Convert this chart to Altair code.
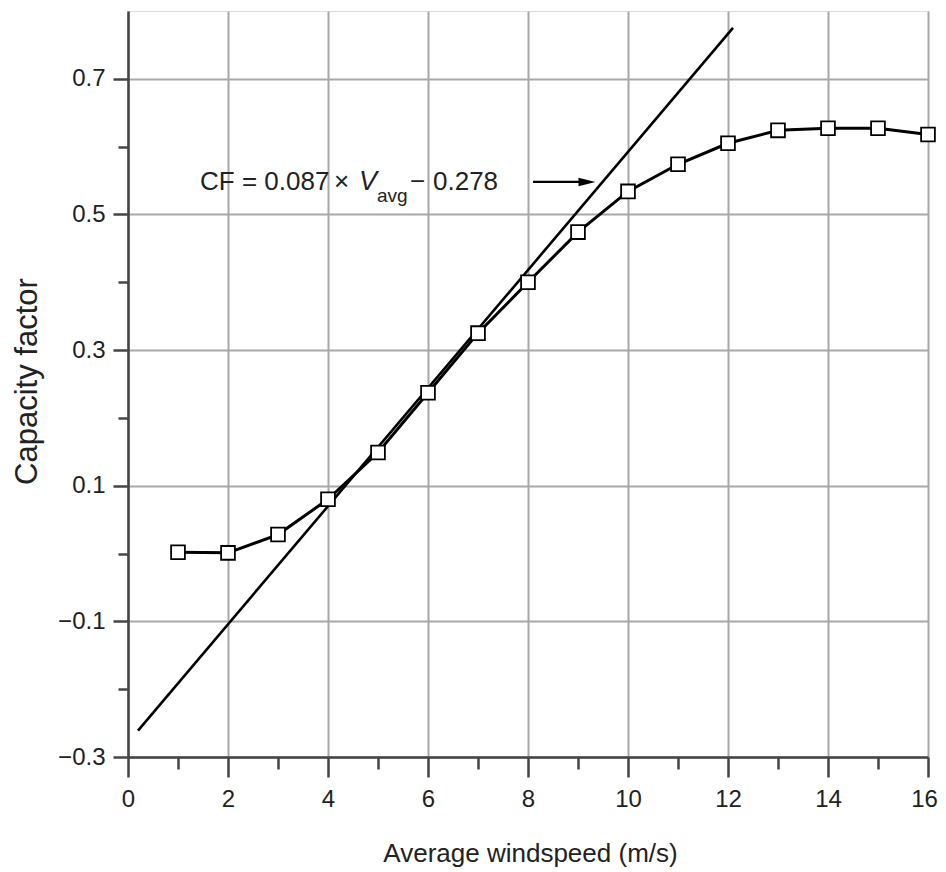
import altair as alt
import pandas as pd

# ---- data ----
speed = [1, 2, 3, 4, 5, 6, 7, 8, 9, 10, 11, 12, 13, 14, 15, 16]
capacity = [0.002, 0.001, 0.028, 0.080, 0.149, 0.237, 0.325, 0.400,
            0.474, 0.534, 0.574, 0.605, 0.624, 0.627, 0.627, 0.618]
fit_speed = [0.2, 12.1]
fit_cf = [-0.261, 0.775]

x_ticks = list(range(0, 17))
y_ticks = [-0.3, -0.2, -0.1, 0.0, 0.1, 0.2, 0.3, 0.4, 0.5, 0.6, 0.7]

# annotation pieces: text, x, y, size, style
ann_text = ["CF = 0.087", "\u00d7", "V", "avg", "\u2212", "0.278"]
ann_x = [1.44, 4.12, 4.62, 4.98, 5.64, 6.10]
ann_y = [0.536, 0.536, 0.536, 0.519, 0.536, 0.536]
ann_size = [26, 26, 27, 19, 26, 26]
ann_style = ["normal", "normal", "italic", "normal", "normal", "normal"]

arrow_x = [8.1]
arrow_x2 = [9.05]
arrow_y = [0.548]
head_x = [9.18]

FONT = "Liberation Sans, Arial, sans-serif"
INK = "#222222"
AX = "#444444"

df = pd.DataFrame({"speed": speed, "cf": capacity})
fit = pd.DataFrame({"speed": fit_speed, "cf": fit_cf})
ann = pd.DataFrame({"t": ann_text, "x": ann_x, "y": ann_y, "s": ann_size, "st": ann_style})
arr = pd.DataFrame({"x": arrow_x, "x2": arrow_x2, "y": arrow_y})
head = pd.DataFrame({"x": head_x, "y": arrow_y})

xs = alt.Scale(domain=[0, 16], nice=False, zero=False)
ys = alt.Scale(domain=[-0.3, 0.8], nice=False, zero=False)

x_major = "datum.value % 2 == 0"
y_major = "abs(round(datum.value * 10)) % 2 == 1"

x_axis = alt.Axis(
    values=x_ticks,
    labelExpr=f"{x_major} ? format(datum.value, 'd') : ''",
    grid=True,
    gridColor="#a8a8a8",
    gridWidth=2,
    gridOpacity={"condition": {"test": x_major, "value": 1}, "value": 0},
    tickSize={"condition": {"test": x_major, "value": 20}, "value": 12},
    tickWidth=2.5, tickColor=AX,
    domainColor=AX, domainWidth=2.5,
    labelFont=FONT, labelFontSize=24, labelColor=INK, labelPadding=10,
    labelOffset={"condition": {"test": "datum.value == 16", "value": -4}, "value": 0},
    labelFlush=False, labelOverlap=False,
    title="Average windspeed (m/s)", titleFont=FONT, titleFontSize=26,
    titleFontWeight="normal", titleColor=INK,
    titleX=402, titleY=96, titleBaseline="middle", titleAlign="center",
)
y_axis = alt.Axis(
    values=y_ticks,
    labelExpr=f"{y_major} ? format(datum.value, '.1f') : ''",
    grid=True,
    gridColor="#a8a8a8",
    gridWidth=2,
    gridOpacity={"condition": {"test": y_major, "value": 1}, "value": 0},
    tickSize={"condition": {"test": y_major, "value": 15}, "value": 10},
    tickWidth=2.5, tickColor=AX,
    domainColor=AX, domainWidth=2.5,
    labelFont=FONT, labelFontSize=24, labelColor=INK, labelPadding=8,
    labelFlush=False, labelOverlap=False,
    title="Capacity factor", titleFont=FONT, titleFontSize=31,
    titleFontWeight="normal", titleColor=INK,
    titleX=-101, titleY=370, titleBaseline="middle", titleAlign="center",
    titleAngle=270,
)

base_line = alt.Chart(df).mark_line(color="black", strokeWidth=3).encode(
    x=alt.X("speed:Q", scale=xs, axis=x_axis),
    y=alt.Y("cf:Q", scale=ys, axis=y_axis),
)
fit_line = alt.Chart(fit).mark_line(color="black", strokeWidth=2.6).encode(
    x=alt.X("speed:Q", scale=xs),
    y=alt.Y("cf:Q", scale=ys),
)
squares = alt.Chart(df).mark_point(
    shape="square", size=190, fill="white", stroke="black",
    strokeWidth=1.8, opacity=1, fillOpacity=1, filled=False,
).encode(
    x=alt.X("speed:Q", scale=xs),
    y=alt.Y("cf:Q", scale=ys),
)

texts = []
for i in range(len(ann_text)):
    texts.append(
        alt.Chart(ann.iloc[[i]]).mark_text(
            align="left", baseline="alphabetic", font=FONT,
            fontSize=ann_size[i], fontStyle=ann_style[i], color=INK,
        ).encode(
            x=alt.X("x:Q", scale=xs),
            y=alt.Y("y:Q", scale=ys),
            text="t:N",
        )
    )

arrow = alt.Chart(arr).mark_rule(color="black", strokeWidth=2.2).encode(
    x=alt.X("x:Q", scale=xs), x2="x2:Q", y=alt.Y("y:Q", scale=ys),
)
arrow_head = alt.Chart(head).mark_point(
    shape="M-1,-0.5L1,0L-1,0.5Z", size=289, filled=True,
    color="black", opacity=1,
).encode(
    x=alt.X("x:Q", scale=xs), y=alt.Y("y:Q", scale=ys),
)

chart = alt.layer(
    base_line, fit_line, squares, arrow, arrow_head, *texts
).properties(
    width=800, height=746,
    autosize="none",
    padding={"left": 120, "top": 3, "right": 10, "bottom": 113},
).configure_view(
    stroke=AX, strokeWidth=2.5,
).configure(background="white")

chart.save("out.html", embed_options={"renderer": "svg", "actions": False})
